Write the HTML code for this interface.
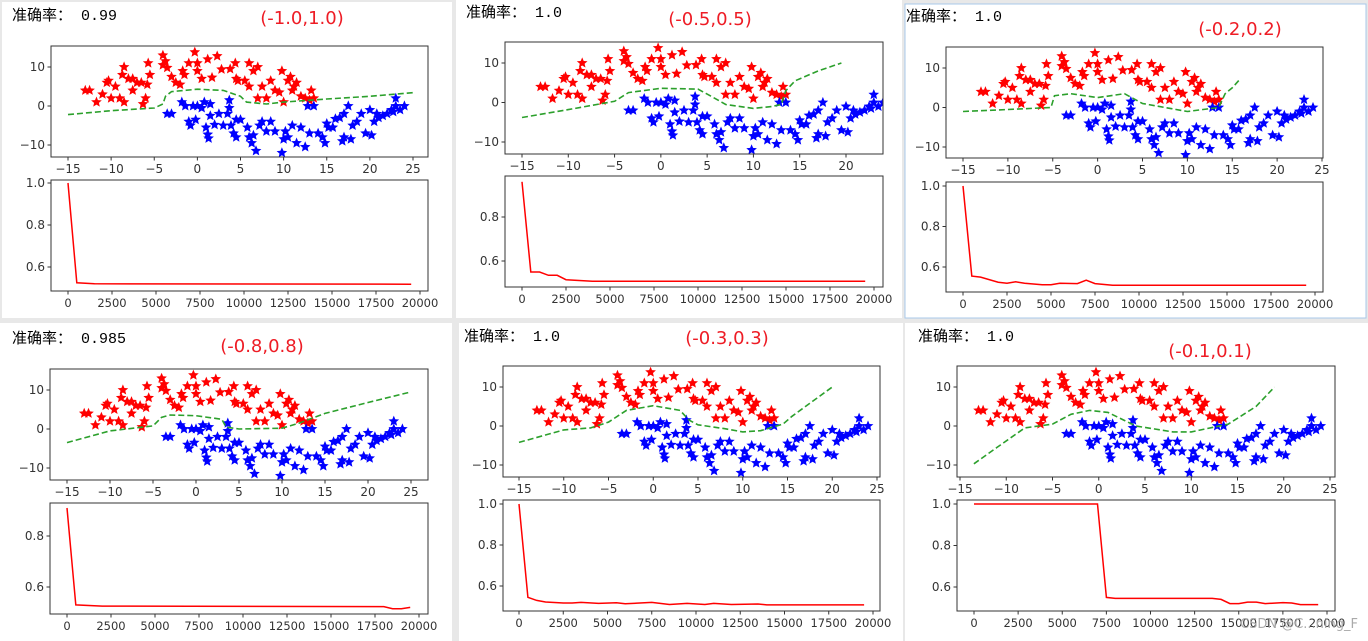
<!DOCTYPE html>
<html><head><meta charset="utf-8">
<style>
html,body{margin:0;padding:0;background:#e8e8e8;width:1368px;height:641px;overflow:hidden}
svg{display:block}
text{font-family:"DejaVu Sans","Liberation Sans",sans-serif}
.cn{font-family:"Liberation Mono","Noto Sans CJK SC",monospace}
</style></head>
<body>
<svg id="chart" width="1368" height="641" xmlns="http://www.w3.org/2000/svg"></svg>
<script>
// shared scatter data (two moons)
const redX=[-13,-12.5,-11.7,-11,-10.5,-10.3,-10,-9.5,-9,-8.5,-8.7,-8.5,-8,-7.5,-7.5,-7,-6.5,-6.3,-6,-5.8,-5.7,-5.5,-4,-4,-3.7,-3.5,-3,-2.5,-2,-1.7,-1.5,-1,-0.3,0,0,0.5,1.2,2.3,1.7,2.8,3.8,4.4,4.5,4.7,5.5,6,6,6.5,7,7,7.5,8,8.5,9,9.5,9.8,10,10.5,10.8,11,11.2,11.5,12,12.5,13,13.2,13.5];
const redY=[4,4,1,3,6,6.5,2,5,2,10,8,1,7,4,7,6,6,0.5,2,5.5,11,8,13,10.5,11.5,9.8,7.5,6,5.5,9,8,11,13.8,9,11,7,12,12.8,7.3,9.4,9.5,11,7,6.5,6.5,11,5,9,2,10,5,2,6.5,4,3.5,9,1,6.5,7.5,4,5,6,2.5,2,1.5,4,2];
const blueX=[-3.5,-3,-1.8,-1.4,-1,-0.8,-0.5,-0.2,0,0.5,0.8,1,1.2,1.3,1.5,1.5,2,2.5,3,3.5,3.7,3.7,3.9,4.2,4.5,4.5,5,5.8,6,6.3,6.5,6.8,7.2,7.5,8,8.5,9,9.8,10,10.2,10.5,11,11.5,12,12.5,12.8,13,13.5,14,14.5,14.8,15,15.2,15.7,16,16.5,16.8,17,17,17.5,17.8,18,18.5,19,19.5,20,20.2,20.5,20.8,21,21.5,22,22.5,22.7,23,23,23.5,24];
const blueY=[-2,-2,1,0,-4,-5,0,-3.5,0,-0.5,1,-5.5,-7.3,-8.3,-2.5,0.5,-4.8,-2,-5,-2,-0.5,1.5,-5,-7,-8,-3.5,-3.5,-5.5,-8,-9.5,-7.5,-11.5,-5,-4,-6.5,-4,-6.5,-12,-8.5,-6.5,-8,-5,-9.5,-5.5,-10.5,0,-7,0,-7,-8,-9.5,-4.5,-5.5,-5.5,-3.3,-3,-9,-2,-8,0,-8.5,-5,-4,-2,-7,-1,-7.5,-4,-2,-3,-2.5,-2,-1,-1.5,2,0,-1,0];
// decision boundaries
const bound1X=[-15,-10,-5,-4,-3.7,-3,0,3,5,5.7,8,10,15,20,25];
const bound1Y=[-2.2,-1.2,-0.5,0.5,2.5,3.7,4.3,4,2.5,1,0.5,1,1.8,2.5,3.4];
const bound2X=[-15,-10,-5,-3.5,0,4,5.5,7,10,12,13,13.5,14.5,17,19.5];
const bound2Y=[-3.8,-1.8,0.3,2.5,3.6,3.4,1.5,-0.5,-1.5,-1,-0.5,3,5.5,8,10];
const bound3X=[-15,-10,-5.2,-4.8,-3,0,3,5,10,13.5,14.2,15,15.8];
const bound3Y=[-1,-0.5,0,3,3.5,2.5,3.5,1,-1,0,3.5,5,7];
const bound4X=[-15,-10,-5,-4,-3,0,3,3.5,5,10,12,15,20,25];
const bound4Y=[-3.5,-0.5,0.8,3,3.6,3.4,2.5,0.5,0,0.2,1.5,4,6.8,9.5];
const bound5X=[-15,-10,-7,-5,-3,0,3,4,5,8,10,12,14.5,15.5,17,20];
const bound5Y=[-4.2,-1,-0.5,1,4,5.2,4,1.5,0.3,-0.7,-1.5,-1.2,0.5,2.5,5,10];
const bound6X=[-13.5,-11,-8,-5,-3,-1,1,4,8,10,14,17,19];
const bound6Y=[-9.7,-5.5,-0.5,0.5,3,4,3.5,0,-1.5,-1.5,0.5,5,10];
// loss curves
const loss1X=[0,500,1500,19500];
const loss1Y=[1.0,0.525,0.52,0.518];
const loss2X=[0,500,1000,1500,2000,2500,4000,19500];
const loss2Y=[0.96,0.55,0.55,0.535,0.535,0.515,0.508,0.508];
const loss3X=[0,500,1000,2000,2500,3000,3500,4500,5000,5500,6500,7000,7500,8500,19500];
const loss3Y=[1.0,0.555,0.55,0.525,0.52,0.527,0.52,0.512,0.512,0.52,0.518,0.535,0.518,0.51,0.51];
const loss4X=[0,500,2000,18000,18500,19000,19500];
const loss4Y=[0.91,0.53,0.525,0.523,0.515,0.515,0.52];
const loss5X=[0,500,1000,1500,2500,3000,3500,4500,5500,6000,7500,8500,9500,10500,11000,12000,13500,14000,19500];
const loss5Y=[1.0,0.545,0.53,0.522,0.517,0.517,0.52,0.515,0.518,0.513,0.52,0.51,0.515,0.51,0.515,0.51,0.512,0.508,0.508];
const loss6X=[0,7000,7500,8000,13500,14000,14500,15000,15500,16000,16500,17500,18000,18500,19500];
const loss6Y=[1.0,1.0,0.55,0.545,0.545,0.54,0.52,0.52,0.527,0.527,0.52,0.525,0.523,0.515,0.515];
const accLabels=["0.99","1.0","1.0","0.985","1.0","1.0"];
const rangeLabels=["(-1.0,1.0)","(-0.5,0.5)","(-0.2,0.2)","(-0.8,0.8)","(-0.3,0.3)","(-0.1,0.1)"];
const sxTicks=[-15,-10,-5,0,5,10,15,20,25];
const syTicks=[10,0,-10];
const lxTicks=[0,2500,5000,7500,10000,12500,15000,17500,20000];
const lyTicks=[1.0,0.8,0.6];

const bounds=[[bound1X,bound1Y],[bound2X,bound2Y],[bound3X,bound3Y],[bound4X,bound4Y],[bound5X,bound5Y],[bound6X,bound6Y]];
const losses=[[loss1X,loss1Y],[loss2X,loss2Y],[loss3X,loss3Y],[loss4X,loss4Y],[loss5X,loss5Y],[loss6X,loss6Y]];
// layout (pixels)
const P=[
 {bg:[2,2,450,316],acc:[12,20],ttl:[302,24],S:[51,46,428,157],sx:[68,413],sy:[67,145],sxMax:25,L:[51,180,428,291],lx:[68,420],ly:[183,267],lyMax:1.0},
 {bg:[456,0,446,318],acc:[466,17],ttl:[710,25],S:[505,42,883,154],sx:[522,846],sy:[63,142],sxMax:20,sxHi:20,L:[505,176,883,287],lx:[522,874],ly:[217,261],lyMax:0.8,lyA:0.8},
 {bg:[905,4,461,314],acc:[906,21],ttl:[1240,35],S:[946,47,1323,158],sx:[963,1322],sy:[68,147],sxMax:25,L:[946,182,1323,292],lx:[963,1315],ly:[186,267],lyMax:1.0},
 {bg:[0,323,452,318],acc:[12,343],ttl:[262,352],S:[50,369,428,480],sx:[67,411],sy:[390,468],sxMax:25,L:[50,503,428,614],lx:[67,419],ly:[536,587],lyMax:0.8,lyA:0.8},
 {bg:[459,323,444,318],acc:[464,341],ttl:[727,344],S:[503,366,880,477],sx:[519,877],sy:[387,465],sxMax:25,L:[503,500,880,611],lx:[519,873],ly:[504,586],lyMax:1.0},
 {bg:[905,323,463,318],acc:[918,341],ttl:[1210,357],S:[957,366,1335,477],sx:[960,1330],sy:[387,465],sxMax:25,L:[957,500,1335,611],lx:[974,1327],ly:[504,587],lyMax:1.0}
];
const svg=document.getElementById('chart');
const NS='http://www.w3.org/2000/svg';
function mk(tag,attrs,parent){const e=document.createElementNS(NS,tag);for(const k in attrs)e.setAttribute(k,attrs[k]);(parent||svg).appendChild(e);return e;}
function starPts(cx,cy,r){let s=[];for(let i=0;i<10;i++){const a=-Math.PI/2+i*Math.PI/5;const rr=i%2?r*0.45:r;s.push((cx+rr*Math.cos(a)).toFixed(1)+','+(cy+rr*Math.sin(a)).toFixed(1));}return s.join(' ');}

P.forEach((p,i)=>{
 const g=mk('g',{});
 
 
 const bg=mk('rect',{x:p.bg[0],y:p.bg[1],width:p.bg[2],height:p.bg[3],fill:'#fff',stroke:i==2?'#a9c8ea':'none'},g);
 
 
 const acc=mk('text',{x:p.acc[0],y:p.acc[1],'font-size':15,fill:'#000','class':'cn'},g);
 acc.textContent='准确率：  '+accLabels[i];
 
 
 const t=mk('text',{x:p.ttl[0],y:p.ttl[1],'font-size':18,fill:'#ee1c25','text-anchor':'middle','font-family':'Liberation Sans, sans-serif'},g);
 t.textContent=rangeLabels[i];
 
 
 // scatter axes
 const S=p.S;
 const X=v=>p.sx[0]+(v+15)*(p.sx[1]-p.sx[0])/(p.sxMax+15);
 const Y=v=>p.sy[0]+(10-v)*(p.sy[1]-p.sy[0])/20;
 const sg=mk('g',{},g);
 
 
 const clipId='c'+i;
 const cp=mk('clipPath',{id:clipId},sg);
 mk('rect',{x:S[0],y:S[1],width:S[2]-S[0],height:S[3]-S[1]},cp);
 const pts=mk('g',{'clip-path':'url(#'+clipId+')'},sg);
 redX.forEach((x,k)=>{const s=mk('polygon',{points:starPts(X(x),Y(redY[k]),5.6),fill:'#ff0000'},pts);
  
  });
 blueX.forEach((x,k)=>{const s=mk('polygon',{points:starPts(X(x),Y(blueY[k]),5.6),fill:'#0000ff'},pts);
  
  });
 const bx=bounds[i][0],by=bounds[i][1];
 const bl=mk('polyline',{points:bx.map((x,k)=>X(x).toFixed(1)+','+Y(by[k]).toFixed(1)).join(' '),fill:'none',stroke:'#2ca02c','stroke-width':1.6,'stroke-dasharray':'6,3'},pts);
 
 
 mk('rect',{x:S[0],y:S[1],width:S[2]-S[0],height:S[3]-S[1],fill:'none',stroke:'#333','stroke-width':1},sg);
 sxTicks.forEach(v=>{if(v>(p.sxHi||25))return;const x=X(v);
  mk('line',{x1:x,x2:x,y1:S[3],y2:S[3]+3.5,stroke:'#333'},sg);
  const tt=mk('text',{x:x,y:S[3]+16,'font-size':12,fill:'#333','text-anchor':'middle'},sg);tt.textContent=v<0?'−'+(-v):v;
  
  });
 syTicks.forEach(v=>{const y=Y(v);
  mk('line',{x1:S[0]-3.5,x2:S[0],y1:y,y2:y,stroke:'#333'},sg);
  const tt=mk('text',{x:S[0]-6,y:y+4,'font-size':12,fill:'#333','text-anchor':'end'},sg);tt.textContent=v<0?'−'+(-v):v;
  
  });
 // loss axes
 const L=p.L;
 const LX=v=>p.lx[0]+v*(p.lx[1]-p.lx[0])/20000;
 const LY=v=>p.ly[1]+(0.6-v)*(p.ly[1]-p.ly[0])/((p.lyA||1.0)-0.6);
 const lg=mk('g',{},g);
 
 
 const lx=losses[i][0],ly=losses[i][1];
 const ll=mk('polyline',{points:lx.map((x,k)=>LX(x).toFixed(1)+','+LY(ly[k]).toFixed(1)).join(' '),fill:'none',stroke:'#ff0000','stroke-width':1.5},lg);
 
 
 mk('rect',{x:L[0],y:L[1],width:L[2]-L[0],height:L[3]-L[1],fill:'none',stroke:'#333','stroke-width':1},lg);
 lxTicks.forEach(v=>{const x=LX(v);
  mk('line',{x1:x,x2:x,y1:L[3],y2:L[3]+3.5,stroke:'#333'},lg);
  const tt=mk('text',{x:x,y:L[3]+16,'font-size':11.5,fill:'#333','text-anchor':'middle'},lg);tt.textContent=v;
  
  });
 lyTicks.forEach(v=>{if(v>p.lyMax+1e-9)return;const y=LY(v);
  mk('line',{x1:L[0]-3.5,x2:L[0],y1:y,y2:y,stroke:'#333'},lg);
  const tt=mk('text',{x:L[0]-6,y:y+4,'font-size':12,fill:'#333','text-anchor':'end'},lg);tt.textContent=v.toFixed(1);
  
  });
});
const wm=mk('text',{x:1358,y:628,'font-size':13,fill:'#aaa','text-anchor':'end'});
wm.textContent='CSDN @C...ning_F';


</script>
</body></html>
